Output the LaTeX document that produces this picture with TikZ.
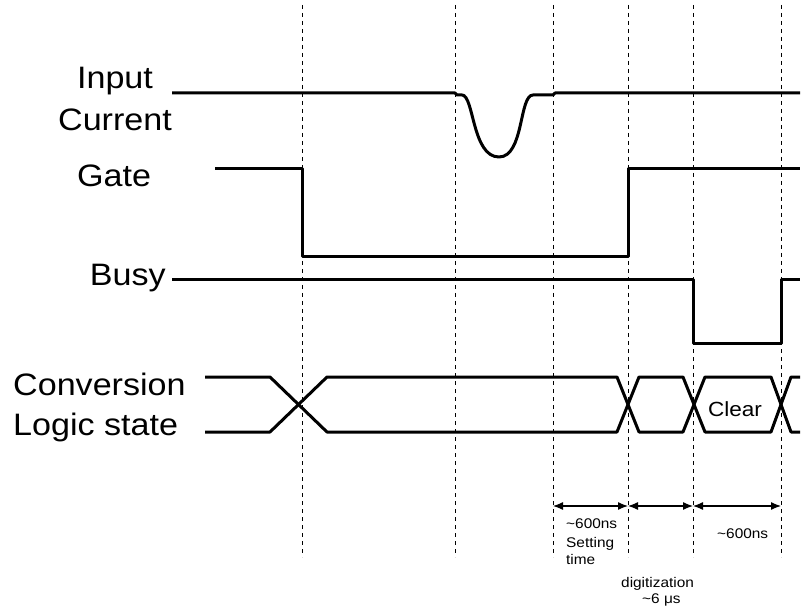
\documentclass[tikz,border=0pt]{standalone}
\usepackage{fontspec}
\setmainfont{Liberation Sans}[FakeStretch=1.1]
\usetikzlibrary{arrows.meta}

\begin{document}
\begin{tikzpicture}[x=1pt,y=-1pt,>={Latex[length=10pt,width=8pt]},line join=round,
    sig/.style={line width=3pt},
    guide/.style={line width=0.9pt,dash pattern=on 4pt off 4pt},
    dim/.style={<->,line width=1.2pt},
    lbl/.style={inner sep=0pt,font=\fontsize{31}{36}\selectfont},
    note/.style={inner sep=0pt,anchor=base west,font=\fontsize{14}{16}\selectfont}]
  \useasboundingbox (0,0) rectangle (804,607);
% ================= guides =================
  \foreach \t in {302,455,553,628,693,781}
      \draw[guide] (\t,5) -- (\t,557);
% ================= labels =================
  \node[lbl,anchor=base] (input)   at (115,89)  {Input};
  \node[lbl,anchor=base] (current) at (115,131) {Current};
  \node[lbl,anchor=base] (gate)    at (114,187) {Gate};
  \node[lbl,anchor=base east] (busy) at (166,285) {Busy};
  \node[lbl,anchor=base west] (conv)  at (13,395) {Conversion};
  \node[lbl,anchor=base west] (logic) at (13,435) {Logic state};
% ================= signals =================
  \def\yI{93}                 % input current baseline
  \def\gH{169} \def\gL{256}   % gate levels
  \def\bH{279} \def\bL{343}   % busy levels
  \def\cT{377} \def\cB{432}   % conversion bus rails
  % input current with the pulse
  \draw[sig] (172,\yI) -- (455,\yI) -- (457,95) -- (462,95)
      .. controls (474,95) and (472,157) .. (499,157)
      .. controls (524,157) and (519,95) .. (533,95)
      -- (553,95) -- (555,\yI) -- (800,\yI);
  % gate
  \draw[sig] (215,\gH) -- (302,\gH) -- (302,\gL) -- (628,\gL) -- (628,\gH) -- (800,\gH);
  % busy
  \draw[sig] (172,\bH) -- (693,\bH) -- (693,\bL) -- (781,\bL) -- (781,\bH) -- (800,\bH);
  % conversion logic state, two crossing rails
  \draw[sig] (205,\cT) -- (270,\cT) -- (327,\cB) -- (617,\cB) -- (639,\cT)
      -- (683,\cT) -- (705,\cB) -- (771,\cB) -- (791,\cT) -- (800,\cT);
  \draw[sig] (205,\cB) -- (270,\cB) -- (327,\cT) -- (617,\cT) -- (639,\cB)
      -- (683,\cB) -- (705,\cT) -- (771,\cT) -- (791,\cB) -- (800,\cB);
  \node[inner sep=0pt,anchor=base,font=\fontsize{20.5}{24}\selectfont] (clear) at (735,416) {Clear};
% ================= timing =================
  \coordinate (settle) at (553,506);
  \coordinate (digit)  at (628,506);
  \coordinate (clr)    at (693,506);
  \coordinate (ready)  at (781,506);
  \draw[dim] (settle) -- (digit);
  \draw[dim] (digit) -- (clr);
  \draw[dim] (clr) -- (ready);
  \node[note] (st1) at (566,528) {\textasciitilde600ns};
  \node[note] (st2) at (566,547) {Setting};
  \node[note] (st3) at (566,564) {time};
  \node[note] (dg1) at (621,587) {digitization};
  \node[note] (dg2) at (642,603) {\textasciitilde6 μs};
  \node[note] (cl1) at (717,538) {\textasciitilde600ns};
\end{tikzpicture}
\end{document}
